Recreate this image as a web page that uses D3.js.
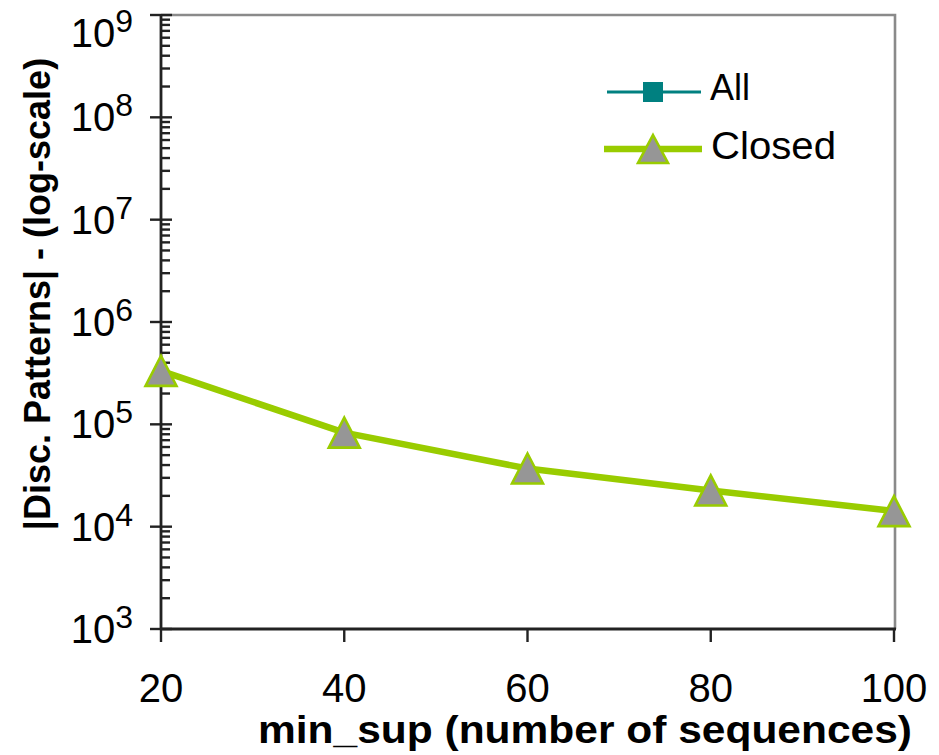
<!DOCTYPE html>
<html>
<head>
<meta charset="utf-8">
<script src="https://cdn.jsdelivr.net/npm/d3@7"></script>
<style>
  html, body { margin: 0; padding: 0; background: #fff; }
  svg { display: block; font-family: "Liberation Sans", Arial, sans-serif; }
</style>
</head>
<body>
<svg id="chart" width="939" height="755"></svg>
<script>
// ---- data ----
const minSup = [20, 40, 60, 80, 100];
const closedCounts = [333000, 83000, 37000, 22600, 14200];
const allCounts = []; // "All" series: no points visible within the plotted range
const xTickValues = [20, 40, 60, 80, 100];
const yTickExponents = [3, 4, 5, 6, 7, 8, 9];
const seriesNames = ["All", "Closed"];
const xTitle = "min_sup (number of sequences)";
const yTitle = "|Disc. Patterns| - (log-scale)";

// ---- layout ----
const L = 161, R = 894, T = 15, B = 629;
const svg = d3.select("#chart");

const x = d3.scaleLinear().domain([20, 100]).range([L, R]);
const y = d3.scaleLog().domain([1e3, 1e9]).range([B, T]);

// plot border (top + right) in gray
svg.append("path")
  .attr("d", `M${L},${T}H${R + 1}V${B}`)
  .attr("fill", "none").attr("stroke", "#8a8a8a").attr("stroke-width", 2.6);

// minor ticks on the log axis (inside)
const minor = [];
for (let e = 3; e < 9; e++) for (let k = 2; k <= 9; k++) minor.push(k * Math.pow(10, e));
svg.append("g").selectAll("line").data(minor).join("line")
  .attr("x1", L).attr("x2", L + 9)
  .attr("y1", d => y(d)).attr("y2", d => y(d))
  .attr("stroke", "#222").attr("stroke-width", 2.4);

// major ticks (cross)
const majors = yTickExponents.map(e => Math.pow(10, e));
svg.append("g").selectAll("line").data(majors).join("line")
  .attr("x1", L - 11).attr("x2", L + 11)
  .attr("y1", d => y(d)).attr("y2", d => y(d))
  .attr("stroke", "#222").attr("stroke-width", 2.4);

// x ticks (outside, downward)
svg.append("g").selectAll("line").data(xTickValues).join("line")
  .attr("x1", d => x(d)).attr("x2", d => x(d))
  .attr("y1", B).attr("y2", B + 13)
  .attr("stroke", "#222").attr("stroke-width", 2.4);

// axis lines
svg.append("line").attr("x1", L).attr("x2", L).attr("y1", T).attr("y2", B)
  .attr("stroke", "#222").attr("stroke-width", 2.8);
svg.append("line").attr("x1", L).attr("x2", R + 2).attr("y1", B).attr("y2", B)
  .attr("stroke", "#222").attr("stroke-width", 2.8);

// y tick labels 10^n
const yl = svg.append("g").attr("fill", "#000");
yTickExponents.forEach(e => {
  const yy = Math.max(y(Math.pow(10, e)), 33);
  const t = yl.append("text").attr("x", 133).attr("y", yy + 14)
    .attr("text-anchor", "end").attr("font-size", 40);
  t.append("tspan").text("10");
  t.append("tspan").attr("font-size", 32).attr("dy", -15).text(String(e));
});

// x tick labels
svg.append("g").selectAll("text").data(xTickValues).join("text")
  .attr("x", d => x(d)).attr("y", 702)
  .attr("text-anchor", "middle").attr("font-size", 40)
  .text(d => d);

// axis titles
svg.append("text").attr("x", 258).attr("y", 743)
  .attr("text-anchor", "start").attr("font-size", 38).attr("font-weight", "bold")
  .attr("textLength", 654).attr("lengthAdjust", "spacingAndGlyphs")
  .text(xTitle);
svg.append("text")
  .attr("transform", "translate(50,294) rotate(-90)")
  .attr("text-anchor", "middle").attr("font-size", 36).attr("font-weight", "bold")
  .text(yTitle);

// triangle path helper
function tri(w, h) { return `M0,${-h/2}L${w/2},${h/2}L${-w/2},${h/2}Z`; }

// Closed series line
const line = d3.line().x((d, i) => x(minSup[i])).y(d => y(d));
svg.append("path").datum(closedCounts)
  .attr("d", line).attr("fill", "none")
  .attr("stroke", "#99CC00").attr("stroke-width", 6.5)
  .attr("stroke-linejoin", "round");

// Closed markers
svg.append("g").selectAll("path").data(closedCounts).join("path")
  .attr("transform", (d, i) => `translate(${x(minSup[i])},${y(d)})`)
  .attr("d", tri(31, 30))
  .attr("fill", "#969696").attr("stroke", "#99CC00").attr("stroke-width", 2.6)
  .attr("stroke-linejoin", "miter");

// All series (no visible points)
svg.append("path").datum(allCounts)
  .attr("d", allCounts.length ? line : null).attr("fill", "none")
  .attr("stroke", "#008080").attr("stroke-width", 3);

// legend
const lg = svg.append("g");
lg.append("line").attr("x1", 607).attr("x2", 701).attr("y1", 92).attr("y2", 92)
  .attr("stroke", "#008080").attr("stroke-width", 3);
lg.append("rect").attr("x", 643).attr("y", 82).attr("width", 20).attr("height", 20)
  .attr("fill", "#008080");
lg.append("text").attr("x", 710).attr("y", 100).attr("font-size", 36).text(seriesNames[0]);

lg.append("line").attr("x1", 604).attr("x2", 702).attr("y1", 149).attr("y2", 149)
  .attr("stroke", "#99CC00").attr("stroke-width", 6.5);
lg.append("path").attr("transform", "translate(653,149)").attr("d", tri(30, 28))
  .attr("fill", "#969696").attr("stroke", "#99CC00").attr("stroke-width", 2.6);
lg.append("text").attr("x", 711).attr("y", 159).attr("font-size", 38)
  .attr("textLength", 125).attr("lengthAdjust", "spacingAndGlyphs").text(seriesNames[1]);
</script>
</body>
</html>
